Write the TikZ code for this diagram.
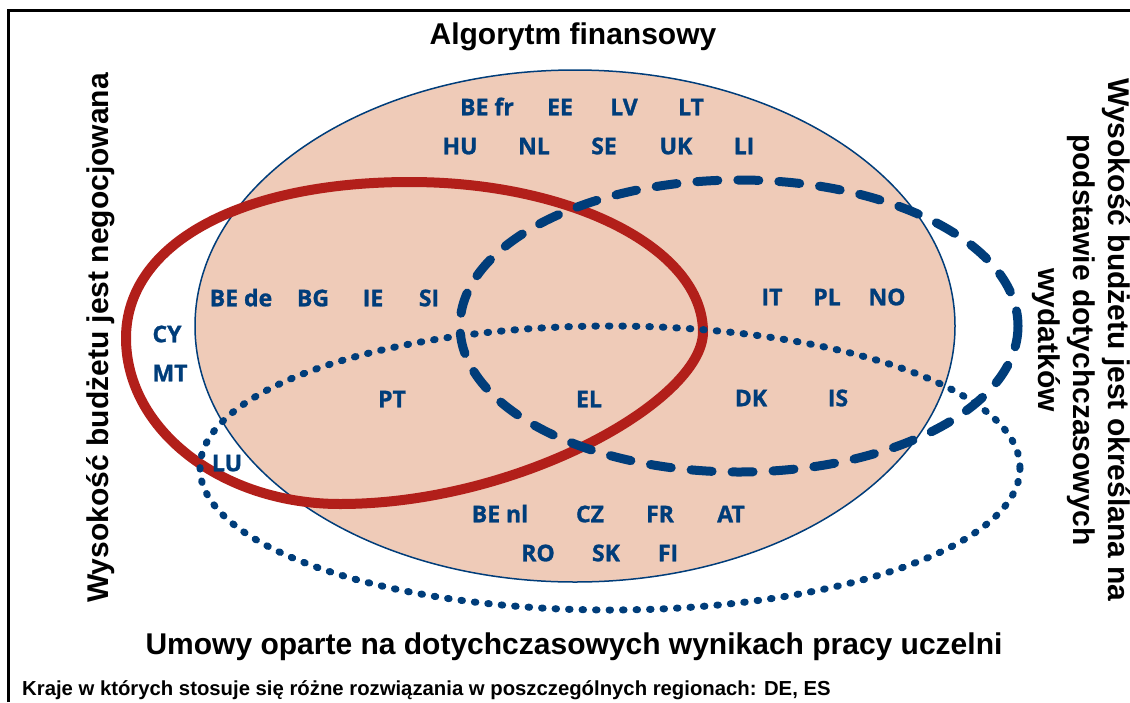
\documentclass[tikz,border=0pt]{standalone}
\usepackage{fontspec}
\setmainfont{Liberation Sans}
\newfontfamily\countryfont[BoldFeatures={FakeBold=1.2}]{Open Sans}
\usetikzlibrary{positioning}
\definecolor{setBlue}{RGB}{0,61,122}
\definecolor{setRed}{RGB}{178,31,26}
\definecolor{setFill}{RGB}{239,203,184}
\tikzset{
    country/.style={font=\countryfont\bfseries\fontsize{23}{23}\selectfont, text=setBlue,
                    inner sep=0pt, text height=16.5pt, text depth=0pt},
    heading/.style={font=\bfseries\fontsize{30}{35}\selectfont, inner sep=0pt},
    footnote/.style={font=\bfseries\fontsize{20.3}{24}\selectfont, inner sep=0pt},
    negotiated/.style={draw=setRed, line width=10pt},
    results/.style={draw=setBlue, line width=7pt, line cap=round, dash pattern=on 1.5pt off 12pt},
    expenses/.style={draw=setBlue, line width=9pt, line cap=round, dash pattern=on 21pt off 20pt},
}

\begin{document}
\begin{tikzpicture}[x=1pt, y=-1pt]
    \useasboundingbox (0,0) rectangle (1130,702);
    \draw[line width=3pt] (8,702) -- (8,10) -- (1130,10);

    % zbiory
    \coordinate (algC) at (575,326);
    \coordinate (resC) at (610,468);
    \coordinate (expC) at (739,326);
    \coordinate (negL) at (126,338);
    \coordinate (negT) at (410,182);
    \coordinate (negR) at (703,332);
    \coordinate (negB) at (340,504);
    \fill[setFill] (algC) ellipse [x radius=380, y radius=256];
    \draw[setBlue, line width=1.5pt] (algC) ellipse [x radius=380, y radius=256];
    \draw[negotiated] (negL) .. controls (126,244) and (240,182) .. (negT)
        .. controls (572,182) and (703,249) .. (negR)
        .. controls (703,400) and (520,504) .. (negB)
        .. controls (222,504) and (126,430) .. (negL) -- cycle;
    \draw[results] (resC) ellipse [x radius=410, y radius=142];
    \draw[expenses] (expC) ellipse [x radius=279, y radius=146];

    % opisy
    \node[heading, anchor=base] (title) at (573,44) {Algorytm finansowy};
    \node[heading, anchor=base] (bottom) at (574,654) {Umowy oparte na dotychczasowych wynikach pracy uczelni};
    \node[heading, anchor=base, rotate=90] (left) at (108,338) {Wysokość budżetu jest negocjowana};
    \node[heading, rotate=-90, align=center] (right) at (1081,340)
        {Wysokość budżetu jest określana na\\podstawie dotychczasowych\\wydatków};
    \node[footnote, anchor=base west] (note) at (22,695)
        {Kraje w których stosuje się różne rozwiązania w poszczególnych regionach: DE, ES};

    % kraje
    \node[country] (BEfr) at (487,107) {BE fr};
    \node[country] (EE) at (560,107) {EE};
    \node[country] (LV) at (624,107) {LV};
    \node[country] (LT) at (691,107) {LT};
    \node[country] (HU) at (460,146) {HU};
    \node[country] (NL) at (534,146) {NL};
    \node[country] (SE) at (604,146) {SE};
    \node[country] (UK) at (676,146) {UK};
    \node[country] (LI) at (744,146) {LI};

    \node[country] (BEde) at (241,298) {BE de};
    \node[country] (BG) at (313,298) {BG};
    \node[country] (IE) at (373,298) {IE};
    \node[country] (SI) at (429,298) {SI};
    \node[country] (IT) at (772,297) {IT};
    \node[country] (PL) at (827,297) {PL};
    \node[country] (NO) at (887,297) {NO};
    \node[country] (CY) at (167,334) {CY};
    \node[country] (MT) at (170,373) {MT};

    \node[country] (PT) at (392,399) {PT};
    \node[country] (EL) at (589,399) {EL};
    \node[country] (DK) at (751,398) {DK};
    \node[country] (IS) at (838,398) {IS};
    \node[country] (LU) at (227,463) {LU};

    \node[country] (BEnl) at (500,514) {BE nl};
    \node[country] (CZ) at (590,514) {CZ};
    \node[country] (FR) at (660,514) {FR};
    \node[country] (AT) at (731,514) {AT};
    \node[country] (RO) at (538,553) {RO};
    \node[country] (SK) at (606,553) {SK};
    \node[country] (FI) at (668,553) {FI};
\end{tikzpicture}
\end{document}
